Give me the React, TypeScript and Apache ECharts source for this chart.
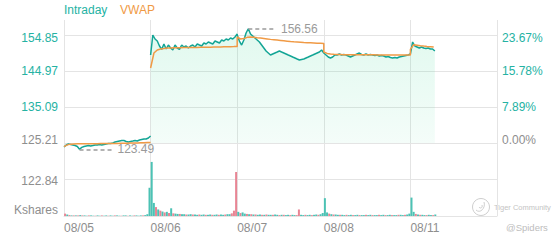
import React, { useEffect, useRef } from 'react';
import * as echarts from 'echarts';

// ---------- data ----------
const dayLabels = ['08/05', '08/06', '08/07', '08/08', '08/11'];
const prevClose = 125.21;
const priceStep = 9.88;
const volumeStep = 122.84;

// intraday price, 10-minute samples (39 steps per session)
const intraday0805 = [124.11, 124.66, 124.94, 124.80, 124.66, 124.52, 124.25, 123.49, 124.00, 124.25,
  124.39, 124.52, 124.39, 124.52, 124.66, 124.66, 124.80, 124.66, 124.80, 124.94,
  125.07, 125.07, 125.21, 125.48, 125.62, 125.76, 125.90, 125.90, 125.62, 125.48,
  125.62, 125.76, 125.90, 125.76, 126.03, 126.17, 126.31, 126.31, 126.58, 127.13];
const intraday0806 = [149.36, 154.85, 153.75, 153.20, 151.83, 150.90, 152.38, 151.01, 152.10, 151.28,
  150.73, 152.10, 151.28, 150.90, 152.10, 151.56, 151.83, 151.28, 151.83, 152.10,
  151.56, 152.38, 152.10, 151.83, 152.65, 152.38, 152.93, 152.65, 152.38, 153.20,
  152.93, 152.65, 153.48, 153.20, 153.75, 153.48, 154.02, 153.75, 154.30, 155.12];
const intraday0807 = [154.85, 153.20, 152.10, 153.48, 155.40, 156.56, 155.12, 154.57, 154.02, 153.48,
  152.93, 152.10, 151.28, 150.46, 149.91, 149.36, 149.64, 149.91, 150.18, 150.46,
  150.18, 149.91, 149.64, 149.36, 149.09, 148.81, 148.54, 148.26, 147.99, 148.13,
  148.26, 148.54, 148.81, 149.09, 149.36, 149.64, 149.91, 150.18, 150.73, 149.91];
const intraday0808 = [149.91, 149.36, 148.81, 148.54, 148.81, 149.36, 149.36, 149.64, 149.36, 149.50,
  149.36, 149.09, 148.81, 149.09, 149.36, 149.64, 149.91, 149.50, 149.36, 149.64,
  149.36, 149.50, 149.36, 149.23, 149.36, 149.09, 149.23, 149.09, 148.81, 148.95,
  148.68, 148.54, 148.68, 148.54, 148.81, 148.95, 149.09, 149.23, 149.36, 149.64];
const intraday0811 = [149.64, 152.93, 151.83, 151.56, 151.28, 151.56, 151.28, 151.14, 151.28, 151.01,
  151.01, 150.46];

// VWAP, 15-minute samples (26 steps per session)
const vwap0805 = [124.20, 124.70, 124.90, 124.95, 124.97, 124.98, 125.00, 125.00, 125.01, 125.02,
  125.03, 125.04, 125.05, 125.06, 125.07, 125.08, 125.09, 125.11, 125.13, 125.15,
  125.18, 125.21, 125.24, 125.27, 125.30, 125.34, 125.38];
const vwap0806 = [145.79, 149.91, 150.73, 151.01, 151.14, 151.28, 151.28, 151.35, 151.35, 151.38,
  151.40, 151.42, 151.42, 151.45, 151.45, 151.48, 151.50, 151.50, 151.52, 151.55,
  151.56, 151.58, 151.60, 151.62, 151.64, 151.66, 151.70];
const vwap0807 = [154.30, 153.75, 153.90, 154.20, 154.30, 154.25, 154.10, 154.00, 153.90, 153.78,
  153.65, 153.55, 153.45, 153.35, 153.25, 153.15, 153.05, 152.98, 152.92, 152.86,
  152.80, 152.75, 152.70, 152.65, 152.60, 152.56, 152.52];
const vwap0808 = [150.18, 149.80, 149.62, 149.55, 149.50, 149.48, 149.46, 149.45, 149.44, 149.43,
  149.42, 149.42, 149.41, 149.41, 149.40, 149.40, 149.39, 149.39, 149.38, 149.38,
  149.37, 149.37, 149.36, 149.36, 149.35, 149.35, 149.34];
const vwap0811 = [150.90, 152.20, 152.05, 151.90, 151.80, 151.72, 151.65, 151.58];

// volume in Kshares per 10-minute slot (negative = down-tick bar)
const volume0805 = [-8, 5, -3, 2, -2, 2, -2, 3, -2, 2, 1, -2, 2, 1, -1, 2, 1, -2, 1, 2,
  -1, 2, 1, -2, 2, 1, -1, 2, 2, -1, 2, 1, -2, 2, 1, 2, -2, 3, 6, 95];
const volume0806 = [182, 44, -30, 22, -18, 15, -12, 14, -10, 26, -9, 8, 7, -7, 6, 6, -5, 5, 6, -5,
  5, 4, -5, 4, 5, -4, 4, 5, -4, 4, 5, -4, 5, 4, -5, 6, 6, -9, -18, -148];
const volume0807 = [14, -10, 12, 8, -7, 6, -6, 5, -5, 4, 5, -4, 4, -5, 4, 4, -4, 5, 4, -3,
  4, -4, 3, 4, -3, 4, 3, -3, -22, 4, 3, -4, 3, 4, -3, 4, 5, -4, 6, 10];
const volume0808 = [60, 12, -8, 6, -5, 5, 4, -4, 4, 3, -4, 3, 4, -3, 3, 4, -3, 3, 3, -4,
  3, 4, -3, 3, 3, -4, 3, 4, -3, 3, 4, -3, 3, 3, -4, 4, 3, -4, 5, 8];
const volume0811 = [62, 14, -7, 5, -4, 4, 3, -3, 4, 3, -3, 5];

// ---------- layout / style ----------
const W = 560;
const H = 240;
const GRID_LEFT = 64;
const GRID_RIGHT_X = 497;
const PRICE_TOP = 20;
const TOP_TICK_Y = 35;
const PRICE_BOTTOM = 143;
const VOL_BOTTOM = 216;
const TEAL = '#13a595';
const TEAL_LABEL = '#25b2a3';
const ORANGE = '#f09a45';
const GREY = '#8e8e8e';
const GRID_COLOR = '#e4e4e4';
const UP_BAR = '#4cc2b4';
const DOWN_BAR = '#e88594';

const PRICE_SLOTS = 39;
const VWAP_SLOTS = 26;
const VOL_SLOTS = 40;

function toPoints(days: number[][], slots: number, firstDay: number) {
  const pts: number[][] = [];
  days.forEach((arr, d) => arr.forEach((v, i) => pts.push([firstDay + d + i / slots, v])));
  return pts;
}

export default function App() {
  const ref = useRef<HTMLDivElement>(null);

  useEffect(() => {
    if (!ref.current) return;
    const chart = echarts.init(ref.current, undefined, { renderer: 'svg' });

    const pxPerUnit = (PRICE_BOTTOM - TOP_TICK_Y) / (3 * priceStep);
    const priceMax = prevClose + (PRICE_BOTTOM - PRICE_TOP) / pxPerUnit;
    const overlayMin = priceMax - (VOL_BOTTOM - PRICE_TOP) / pxPerUnit;
    const pctMax = (priceMax - prevClose) / prevClose * 100;
    const pctStep = priceStep / prevClose * 100;
    const topTick = prevClose + 3 * priceStep;

    const day1 = toPoints([intraday0805], PRICE_SLOTS, 0);
    const rest = toPoints([intraday0806, intraday0807, intraday0808, intraday0811], PRICE_SLOTS, 1);
    const vwap1 = toPoints([vwap0805], VWAP_SLOTS, 0);
    const vwapRest = toPoints([vwap0806, vwap0807, vwap0808, vwap0811], VWAP_SLOTS, 1);

    const all = day1.concat(rest);
    let hi = all[0], lo = all[0];
    all.forEach((p) => { if (p[1] > hi[1]) hi = p; if (p[1] < lo[1]) lo = p; });

    const mark = (p: number[], len: number) => [
      { name: p[1].toFixed(2), coord: [p[0], p[1]] },
      { coord: [p[0] + len, p[1]] },
    ];
    const markLineFor = (pts: number[][]) => {
      const data: any[] = [];
      if (pts.includes(hi)) data.push(mark(hi, 0.32));
      if (pts.includes(lo)) data.push(mark(lo, 0.38));
      return {
        silent: true,
        symbol: 'none',
        animation: false,
        lineStyle: { color: '#9a9a9a', type: [4, 3], width: 1.5 },
        label: { position: 'end', color: '#9a9a9a', fontSize: 12, distance: 5, formatter: (q: any) => q.name },
        data,
      };
    };

    const volDays = [volume0805, volume0806, volume0807, volume0808, volume0811];
    const volData: any[] = [];
    volDays.forEach((arr, d) => arr.forEach((v, i) => {
      volData.push({
        value: [d + (i + 0.5) / VOL_SLOTS, Math.abs(v)],
        itemStyle: { color: v >= 0 ? UP_BAR : DOWN_BAR },
      });
    }));

    const near = (a: number, b: number) => Math.abs(a - b) < 1e-6;

    const priceLabel = (v: number) => {
      const s = v.toFixed(2);
      if (near(v, topTick)) return `{top|${s}}`;
      if (near(v, prevClose)) return `{bot|${s}}`;
      if (v > priceMax - 1e-6) return '';
      return `{mid|${s}}`;
    };
    const pctLabel = (v: number) => {
      const s = v.toFixed(2) + '%';
      if (near(v, 3 * pctStep)) return `{top|${s}}`;
      if (near(v, 0)) return `{bot|${s}}`;
      if (v > pctMax - 1e-6) return '';
      return `{mid|${s}}`;
    };
    const richPrice = {
      top: { color: TEAL_LABEL, fontSize: 12, padding: [6, 0, 0, 0] },
      mid: { color: TEAL_LABEL, fontSize: 12 },
      bot: { color: GREY, fontSize: 12, padding: [0, 0, 6, 0] },
    };
    const gridBox = { left: GRID_LEFT, right: W - GRID_RIGHT_X };

    const option: any = {
      animation: false,
      textStyle: { fontFamily: 'Arial' },
      grid: [
        { ...gridBox, top: PRICE_TOP, bottom: H - PRICE_BOTTOM },
        { ...gridBox, top: PRICE_BOTTOM, bottom: H - VOL_BOTTOM },
        { ...gridBox, top: PRICE_TOP, bottom: H - VOL_BOTTOM },
      ],
      xAxis: [
        {
          type: 'value', gridIndex: 0, min: 0, max: dayLabels.length, interval: 1,
          axisLine: { show: false }, axisTick: { show: false }, axisLabel: { show: false },
          splitLine: { show: true, lineStyle: { color: GRID_COLOR, width: 1 } },
        },
        {
          type: 'value', gridIndex: 1, min: 0, max: dayLabels.length, interval: 1,
          axisLine: { show: true, lineStyle: { color: GRID_COLOR } }, axisTick: { show: false },
          axisLabel: {
            show: true, color: GREY, fontSize: 12, align: 'left', margin: 6,
            formatter: (v: number) => dayLabels[Math.round(v)] ?? '',
          },
          splitLine: { show: true, lineStyle: { color: GRID_COLOR, width: 1 } },
        },
        {
          type: 'value', gridIndex: 2, min: 0, max: dayLabels.length, show: false,
          splitLine: { show: false },
        },
      ],
      yAxis: [
        {
          type: 'value', gridIndex: 0, position: 'left', min: prevClose, max: priceMax, interval: priceStep,
          axisLine: { show: false }, axisTick: { show: false },
          axisLabel: { margin: 6, formatter: priceLabel, rich: richPrice, showMaxLabel: false },
          splitLine: { show: true, showMinLine: true, showMaxLine: false, lineStyle: { color: GRID_COLOR } },
        },
        {
          type: 'value', gridIndex: 0, position: 'right', min: 0, max: pctMax, interval: pctStep,
          axisLine: { show: false }, axisTick: { show: false },
          axisLabel: { margin: 5, formatter: pctLabel, rich: richPrice, showMaxLabel: false },
          splitLine: { show: false },
        },
        {
          type: 'value', gridIndex: 1, position: 'left', min: 0, max: 2 * volumeStep, interval: volumeStep,
          axisLine: { show: false }, axisTick: { show: false },
          axisLabel: {
            margin: 6, showMaxLabel: false,
            formatter: (v: number) => (near(v, 0) ? '{k|Kshares}' : near(v, volumeStep) ? `{m|${v.toFixed(2)}}` : ''),
            rich: {
              k: { color: GREY, fontSize: 12, padding: [0, 0, 12, 0] },
              m: { color: GREY, fontSize: 12, padding: [3, 0, 0, 0] },
            },
          },
          splitLine: { show: true, showMinLine: false, showMaxLine: false, lineStyle: { color: GRID_COLOR } },
        },
        {
          type: 'value', gridIndex: 2, min: overlayMin, max: priceMax, show: false,
          splitLine: { show: false },
        },
      ],
      graphic: [
        { type: 'text', left: GRID_LEFT, top: 4, style: { text: 'Intraday', fill: TEAL_LABEL, fontSize: 12, fontFamily: 'Arial' } },
        { type: 'text', left: 120, top: 4, style: { text: 'VWAP', fill: ORANGE, fontSize: 12, fontFamily: 'Arial' } },
        {
          type: 'group', left: 470, top: 196,
          children: [
            { type: 'circle', shape: { cx: 9, cy: 9, r: 8.5 }, style: { fill: 'none', stroke: '#cfcfcf', lineWidth: 1 } },
            { type: 'bezierCurve', shape: { x1: 4, y1: 12, cpx1: 8, cpy1: 16, cpx2: 14, cpy2: 10, x2: 12, y2: 4 }, style: { fill: 'none', stroke: '#cfcfcf', lineWidth: 1 } },
            { type: 'bezierCurve', shape: { x1: 7, y1: 9, cpx1: 8, cpy1: 11, cpx2: 11, cpy2: 10, x2: 10, y2: 7 }, style: { fill: 'none', stroke: '#cfcfcf', lineWidth: 1 } },
            { type: 'text', x: 22, y: 5, style: { text: 'Tiger Community', fill: '#c4c4c4', fontSize: 7.5, fontFamily: 'Arial' } },
          ],
        },
        { type: 'text', left: 506, top: 222, style: { text: '@Spiders', fill: '#bdbdbd', fontSize: 9.5, fontFamily: 'Arial' } },
      ],
      series: [
        {
          name: 'Volume', type: 'bar', xAxisIndex: 1, yAxisIndex: 2, data: volData,
          barWidth: 2, barGap: '-100%', z: 1,
        },
        {
          name: 'Intraday', type: 'line', xAxisIndex: 0, yAxisIndex: 0, data: rest,
          showSymbol: false, clip: false, lineStyle: { color: TEAL, width: 1.5 }, itemStyle: { color: TEAL },
          areaStyle: {
            color: new echarts.graphic.LinearGradient(0, 0, 0, 1, [
              { offset: 0, color: 'rgba(60,215,150,0.22)' },
              { offset: 1, color: 'rgba(60,215,150,0.08)' },
            ]),
          },
          markLine: markLineFor(rest), z: 3,
        },
        {
          name: 'Intraday', type: 'line', xAxisIndex: 2, yAxisIndex: 3, data: day1,
          showSymbol: false, clip: false, lineStyle: { color: TEAL, width: 1.5 }, itemStyle: { color: TEAL },
          markLine: markLineFor(day1), z: 3,
        },
        {
          name: 'VWAP', type: 'line', xAxisIndex: 2, yAxisIndex: 3, data: vwap1,
          showSymbol: false, clip: false, lineStyle: { color: ORANGE, width: 1.5 }, itemStyle: { color: ORANGE }, z: 4,
        },
        {
          name: 'VWAP', type: 'line', xAxisIndex: 0, yAxisIndex: 0, data: vwapRest,
          showSymbol: false, clip: false, lineStyle: { color: ORANGE, width: 1.5 }, itemStyle: { color: ORANGE }, z: 4,
        },
      ],
    };

    chart.setOption(option);
    return () => chart.dispose();
  }, []);

  return <div ref={ref} style={{ width: W, height: H, position: 'absolute', left: 0, top: 0 }} />;
}
